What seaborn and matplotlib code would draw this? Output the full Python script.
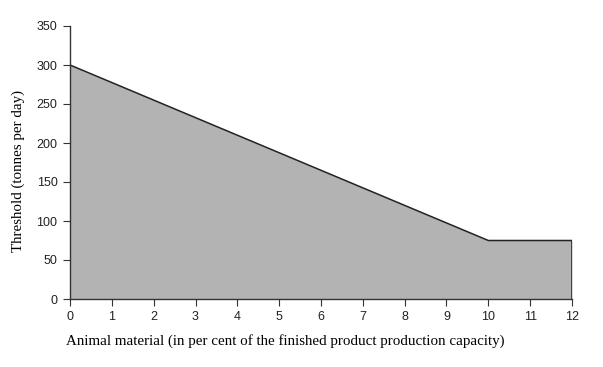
import matplotlib
matplotlib.use('Agg')
import matplotlib.pyplot as plt
import seaborn as sns
import pandas as pd

# 읽어낸 값
animal_pct = [0, 1, 2, 3, 4, 5, 6, 7, 8, 9, 10, 11, 12]
threshold = [300, 277.5, 255, 232.5, 210, 187.5, 165, 142.5, 120, 97.5, 75, 75, 75]
x_ticks = list(range(0, 13))
y_ticks = [0, 50, 100, 150, 200, 250, 300, 350]

df = pd.DataFrame({'x': animal_pct, 'y': threshold})

sns.set_style('white')
plt.rcParams['font.family'] = ['Liberation Sans', 'DejaVu Sans']

W, H = 603, 367
fig = plt.figure(figsize=(W / 100, H / 100), dpi=100)
ax = fig.add_axes([70 / W, 1 - 299 / H, 502 / W, 273 / H])

ax.fill_between(df['x'], 0, df['y'], color='#b3b3b3', linewidth=0)
sns.lineplot(data=df, x='x', y='y', ax=ax, color='#222222', linewidth=1.1)
ax.plot([animal_pct[-1], animal_pct[-1]], [0, threshold[-1]], color='#222222', linewidth=1.1)

ax.set_xlim(0, 12)
ax.set_ylim(0, 350)
ax.set_xticks(x_ticks)
ax.set_yticks(y_ticks)
ax.tick_params(axis='both', direction='out', length=5, width=0.8, color='#333333',
               labelsize=9, labelcolor='#222222', pad=4, bottom=True, left=True)

ax.spines['right'].set_visible(False)
ax.spines['top'].set_visible(False)
for s in ['left', 'bottom']:
    ax.spines[s].set_color('#333333')
    ax.spines[s].set_linewidth(1.0)

ax.set_xlabel('')
ax.set_ylabel('')
# 축 제목 (원본 위치에 맞춤)
fig.text(66 / W, 1 - 341 / H,
         'Animal material (in per cent of the finished product production capacity)',
         family=['Liberation Serif'], fontsize=10.8, color='black', ha='left', va='center')
fig.text(18 / W, 1 - 171 / H, 'Threshold (tonnes per day)', rotation=90,
         family=['Liberation Serif'], fontsize=10.8, color='black', ha='center', va='center')

fig.savefig('out.png', dpi=100)
